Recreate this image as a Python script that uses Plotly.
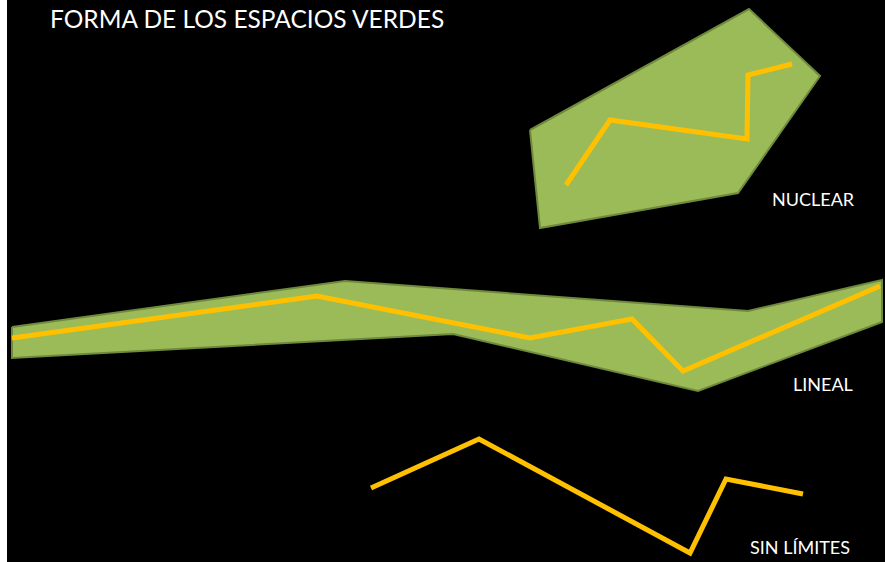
import plotly.graph_objects as go

# Shape outlines (diagram units: x to the right, y downward)
nuclear_area_x = [530, 749, 820, 738, 540, 530]
nuclear_area_y = [130, 9, 76, 193, 228, 130]
nuclear_line_x = [566, 610, 747, 748, 792]
nuclear_line_y = [185, 120, 139, 75, 64]

lineal_area_x = [12, 345, 748, 882, 882, 698, 453, 12, 12]
lineal_area_y = [327, 281, 311, 280, 322, 391, 334, 358, 327]
lineal_line_x = [12, 317, 530, 632, 683, 880]
lineal_line_y = [338, 296, 338, 319, 371, 286]

sin_line_x = [371, 479, 690, 726, 803]
sin_line_y = [488, 439, 553, 479, 494]

labels = ["NUCLEAR", "LINEAL", "SIN LÍMITES"]
label_x = [813, 823, 800]
label_y = [199, 384, 547]
title = "FORMA DE LOS ESPACIOS VERDES"

GREEN = "#9BBB59"
EDGE = "#6F8A3C"
YELLOW = "#FFC000"

fig = go.Figure()
for ax, ay in [(nuclear_area_x, nuclear_area_y), (lineal_area_x, lineal_area_y)]:
    fig.add_trace(go.Scatter(x=ax, y=ay, mode="lines", fill="toself",
                             fillcolor=GREEN, line=dict(color=EDGE, width=2),
                             hoverinfo="skip", showlegend=False))
for lx, ly in [(nuclear_line_x, nuclear_line_y), (lineal_line_x, lineal_line_y),
               (sin_line_x, sin_line_y)]:
    fig.add_trace(go.Scatter(x=lx, y=ly, mode="lines",
                             line=dict(color=YELLOW, width=5),
                             hoverinfo="skip", showlegend=False))

for t, x, y in zip(labels, label_x, label_y):
    fig.add_annotation(x=x, y=y, text=t, showarrow=False, xanchor="center",
                       yanchor="middle",
                       font=dict(family="Lato, Open Sans, sans-serif", size=18, color="white"))

fig.add_annotation(x=48, y=18, text=title, showarrow=False, xanchor="left",
                   yanchor="middle",
                   font=dict(family="Lato, Open Sans, sans-serif", size=24.5, color="white"))

fig.update_layout(
    width=885, height=562,
    margin=dict(l=7, r=0, t=0, b=0),
    paper_bgcolor="white", plot_bgcolor="black",
    xaxis=dict(range=[7, 885], visible=False, fixedrange=True),
    yaxis=dict(range=[562, 0], visible=False, fixedrange=True),
    showlegend=False,
)
fig.write_html("out.html", config={"displayModeBar": False},
               post_script="document.body.style.margin='0';document.body.style.overflow='hidden';")
